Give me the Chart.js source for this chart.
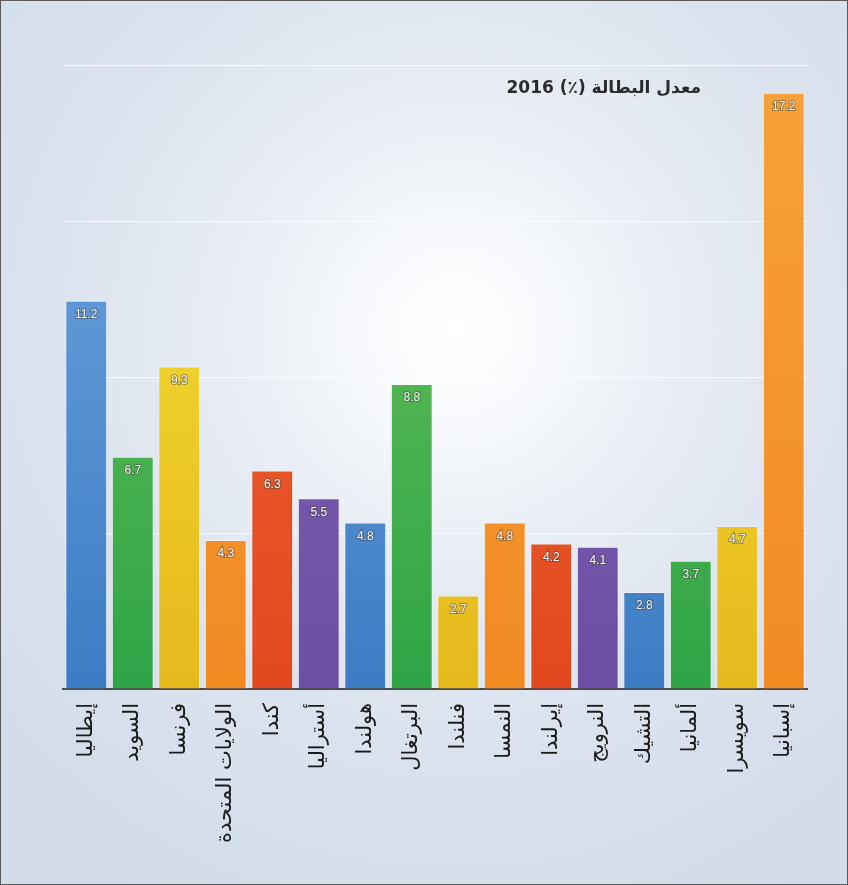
<!DOCTYPE html>
<html lang="ar">
<head>
<meta charset="utf-8">
<script src="https://cdn.jsdelivr.net/npm/chart.js@4.4.1/dist/chart.umd.min.js"></script>
<style>
  html, body { margin: 0; padding: 0; }
  body {
    width: 848px; height: 885px; overflow: hidden;
    background:
      radial-gradient(circle at 455px 330px, #ffffff 0px, #f8fafd 80px, #e9eef5 220px, #dbe3ee 400px, #d1dbe9 650px);
  }
  #wrap {
    position: absolute; left: 0; top: 0; width: 846px; height: 883px;
    border: 1px solid #5a5a5a;
  }
  canvas { display: block; }
</style>
</head>
<body>
<div id="wrap"><canvas id="rate" width="846" height="883"></canvas></div>
<script>
// unemployment rate 2016 by country (%)
const countries = ['إيطاليا', 'السويد', 'فرنسا', 'الولايات المتحدة', 'كندا', 'أستراليا', 'هولندا', 'البرتغال',
  'فنلندا', 'النمسا', 'إيرلندا', 'النرويج', 'التشيك', 'ألمانيا', 'سويسرا', 'إسبانيا'];
const rates = [11.2, 6.7, 9.3, 4.3, 6.3, 5.5, 4.8, 8.8, 2.7, 4.8, 4.2, 4.1, 2.8, 3.7, 4.7, 17.2];
const chartTitle = 'معدل البطالة (٪) 2016';
const gridTicks = [4.5, 9, 13.5, 18];

// palette cycles blue/green/yellow/orange/red/purple, [top, bottom]
const PAL = {
  blue:   ['#72a8e0', '#3d7cc4'],
  green:  ['#72c45a', '#2fa447'],
  yellow: ['#f7e43a', '#e5b91c'],
  orange: ['#f7a23a', '#f28a22'],
  red:    ['#ef6a36', '#e2481f'],
  purple: ['#8467b9', '#6c4ea3'],
};
const barPal = ['blue', 'green', 'yellow', 'orange', 'red', 'purple', 'blue', 'green',
  'yellow', 'orange', 'red', 'purple', 'blue', 'green', 'yellow', 'orange'];

function barFill(c) {
  const { chart, dataIndex } = c;
  const area = chart.chartArea;
  if (!area) return PAL[barPal[dataIndex]][1];
  const [top, bot] = PAL[barPal[dataIndex]];
  const el = chart.getDatasetMeta(0).data[dataIndex];
  const y0 = el && isFinite(el.y) ? el.y : area.top;
  const g = chart.ctx.createLinearGradient(0, y0, 0, area.bottom);
  g.addColorStop(0, top);
  g.addColorStop(1, bot);
  return g;
}

const FONT_AR = '"DejaVu Sans", "Noto Sans", sans-serif';

// value printed inside the top of each bar
const valueLabels = {
  id: 'valueLabels',
  afterDatasetsDraw(chart) {
    const { ctx } = chart;
    const meta = chart.getDatasetMeta(0);
    ctx.save();
    ctx.font = '12px "Liberation Sans Narrow", "Liberation Sans", sans-serif';
    ctx.textAlign = 'center';
    ctx.textBaseline = 'middle';
    meta.data.forEach((bar, i) => {
      const txt = rates[i].toFixed(1);
      ctx.lineWidth = 2;
      ctx.strokeStyle = 'rgba(70,70,70,0.5)';
      ctx.strokeText(txt, bar.x, bar.y + 14);
      ctx.fillStyle = '#f4f4f4';
      ctx.fillText(txt, bar.x, bar.y + 14);
    });
    ctx.restore();
  }
};

// heading at the top right of the plot
const heading = {
  id: 'heading',
  afterDraw(chart) {
    const { ctx } = chart;
    ctx.save();
    ctx.direction = 'rtl';
    ctx.textAlign = 'right';
    ctx.textBaseline = 'middle';
    ctx.font = 'bold 17px ' + FONT_AR;
    ctx.fillStyle = '#2b2b2b';
    ctx.fillText(chartTitle, 700, 88);
    ctx.restore();
  }
};

new Chart(document.getElementById('rate'), {
  type: 'bar',
  data: {
    labels: countries,
    datasets: [{
      data: rates,
      backgroundColor: barFill,
      borderColor: 'rgba(255,255,255,0.45)',
      borderWidth: 1,
      borderSkipped: 'bottom',
      barPercentage: 0.9,
      categoryPercentage: 1,
    }]
  },
  options: {
    responsive: false,
    animation: false,
    events: [],
    layout: { padding: { top: 64, left: 62, right: 40, bottom: 0 } },
    plugins: { legend: { display: false }, tooltip: { enabled: false } },
    scales: {
      x: {
        grid: { display: false },
        border: { display: true, color: '#4a4a4a', width: 2 },
        ticks: {
          color: '#1a1a1a',
          font: { family: FONT_AR, size: 21 },
          minRotation: 90, maxRotation: 90,
          autoSkip: false,
          padding: 6,
        },
        afterFit(scale) { scale.height = 195; },
      },
      y: {
        min: 0, max: 18,
        afterBuildTicks(scale) { scale.ticks = [0, ...gridTicks].map(v => ({ value: v })); },
        grid: { color: 'rgba(255,255,255,0.75)', lineWidth: 1, drawTicks: false },
        border: { display: false },
        ticks: { display: false },
        afterFit(scale) { scale.width = 0; },
      }
    }
  },
  plugins: [valueLabels, heading]
});
</script>
</body>
</html>
